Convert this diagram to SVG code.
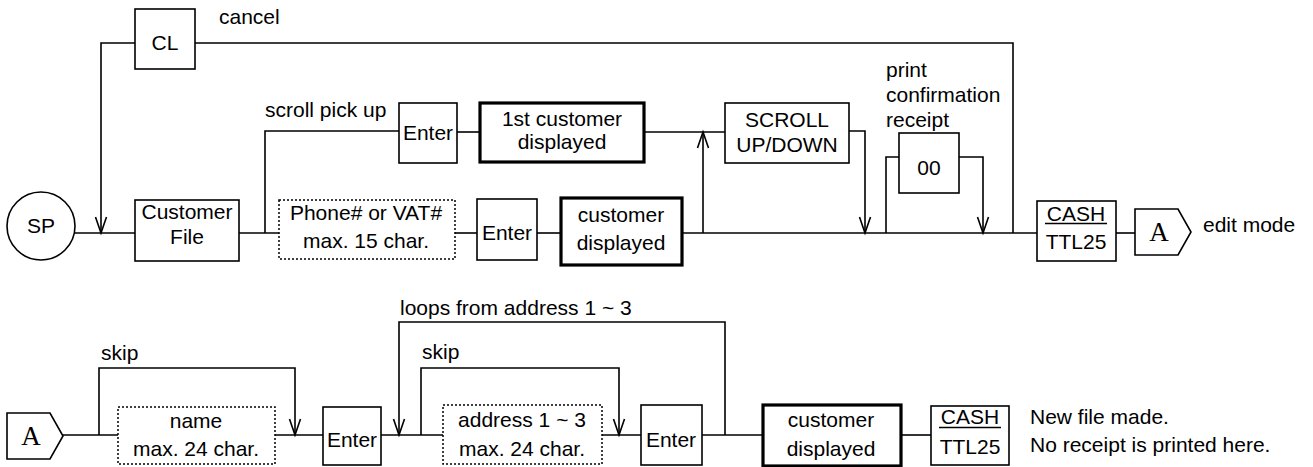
<svg xmlns="http://www.w3.org/2000/svg" width="1313" height="467" viewBox="0 0 1313 467">
<style>
text{font-family:"Liberation Sans",Arial,sans-serif;font-size:21px;fill:#000}
.c{text-anchor:middle}
.b{fill:#fff;stroke:#000;stroke-width:1.6}
.t{fill:#fff;stroke:#000;stroke-width:3.2}
.d{fill:#fff;stroke:#000;stroke-width:1.5;stroke-dasharray:2 2}
.l{fill:none;stroke:#000;stroke-width:1.6}
.a{fill:none;stroke:#000;stroke-width:1.6;marker-end:url(#v)}
.s{font-family:"Liberation Serif","Times New Roman",serif;font-size:27px}
</style>
<defs>
<marker id="v" markerUnits="userSpaceOnUse" markerWidth="20" markerHeight="16" viewBox="-18 -8 20 16" refX="0" refY="0" orient="auto" overflow="visible">
<path d="M-16,-5.5 L0,0 L-16,5.5" fill="none" stroke="#000" stroke-width="1.6"/>
</marker>
</defs>
<g id="connectors">
<path class="l" d="M75,233 H135"/>
<path class="a" d="M135,43 H101 V233"/>
<path class="l" d="M195,43 H1013 V233"/>
<path class="l" d="M239,233 H279"/>
<path class="l" d="M265,233 V131 H399"/>
<path class="l" d="M455,233 H477"/>
<path class="l" d="M537,233 H561"/>
<path class="l" d="M457,132 H480"/>
<path class="l" d="M644,132 H725"/>
<path class="a" d="M703,233 V132"/>
<path class="l" d="M682,233 H1037"/>
<path class="a" d="M849,131 H865 V233"/>
<path class="l" d="M886,233 V157 H899"/>
<path class="a" d="M959,157 H983 V233"/>
<path class="l" d="M1116,233 H1135"/>
<path class="l" d="M63,435 H118"/>
<path class="a" d="M99,435 V368 H295 V435"/>
<path class="l" d="M275,435 H323"/>
<path class="l" d="M381,435 H443"/>
<path class="a" d="M725,435 V322 H399 V435"/>
<path class="a" d="M421,435 V368 H619 V435"/>
<path class="l" d="M602,435 H641"/>
<path class="l" d="M702,435 H763"/>
<path class="l" d="M901,435 H931"/>
</g>
<g id="sp"><circle class="b" cx="41" cy="226" r="34"/><text class="c" x="41" y="233">SP</text></g>
<g id="cl"><rect class="b" x="135" y="9" width="60" height="60"/><text class="c" x="165" y="50">CL</text></g>
<text x="219" y="24">cancel</text>
<g id="custfile"><rect class="b" x="135" y="200" width="104" height="61"/><text class="c" x="187" y="219">Customer</text><text class="c" x="187" y="244">File</text></g>
<text x="265" y="117">scroll pick up</text>
<g id="phone"><rect class="d" x="279" y="200" width="176" height="59"/><text class="c" x="366" y="220">Phone# or VAT#</text><text class="c" x="366" y="248">max. 15 char.</text></g>
<g id="enter1"><rect class="b" x="399" y="103" width="58" height="60"/><text class="c" x="428" y="140">Enter</text></g>
<g id="first"><rect class="t" x="480" y="103" width="164" height="59"/><text class="c" x="562" y="126">1st customer</text><text class="c" x="562" y="149">displayed</text></g>
<g id="scroll"><rect class="b" x="725" y="103" width="124" height="60"/><text class="c" x="787" y="127">SCROLL</text><text class="c" x="787" y="152">UP/DOWN</text></g>
<g id="enter2"><rect class="b" x="477" y="199" width="60" height="61"/><text class="c" x="507" y="240">Enter</text></g>
<g id="custdisp1"><rect class="t" x="561" y="198" width="121" height="67"/><text class="c" x="621" y="222">customer</text><text class="c" x="621" y="250">displayed</text></g>
<text x="886" y="77">print</text>
<text x="886" y="102">confirmation</text>
<text x="886" y="127">receipt</text>
<g id="zz"><rect class="b" x="899" y="133" width="60" height="60"/><text class="c" x="929" y="175">00</text></g>
<g id="cash1"><rect class="b" x="1037" y="201" width="79" height="60"/><text class="c" x="1076" y="221">CASH</text><path class="l" d="M1045,223.5 H1107" stroke-width="2"/><text class="c" x="1076" y="249">TTL25</text></g>
<g id="a1"><path class="b" d="M1135,209 H1178 L1191,232 L1178,255 H1135 Z"/><text class="c s" x="1159" y="241">A</text></g>
<text x="1203" y="232">edit mode</text>
<g id="a2"><path class="b" d="M7,413 H50 L63,436 L50,459 H7 Z"/><text class="c s" x="31" y="445">A</text></g>
<text x="101" y="360">skip</text>
<g id="name"><rect class="d" x="118" y="407" width="157" height="57"/><text class="c" x="196" y="428">name</text><text class="c" x="196" y="456">max. 24 char.</text></g>
<g id="enter3"><rect class="b" x="323" y="407" width="58" height="58"/><text class="c" x="352" y="447">Enter</text></g>
<text x="400" y="315">loops from address 1 ~ 3</text>
<text x="422" y="359">skip</text>
<g id="address"><rect class="d" x="443" y="405" width="159" height="59"/><text class="c" x="522" y="427">address 1 ~ 3</text><text class="c" x="522" y="456">max. 24 char.</text></g>
<g id="enter4"><rect class="b" x="641" y="405" width="61" height="60"/><text class="c" x="671" y="447">Enter</text></g>
<g id="custdisp2"><rect class="t" x="763" y="405" width="138" height="61"/><text class="c" x="831" y="427">customer</text><text class="c" x="831" y="456">displayed</text></g>
<g id="cash2"><rect class="b" x="931" y="406" width="78" height="59"/><text class="c" x="970" y="424">CASH</text><path class="l" d="M939,427.5 H1001" stroke-width="2"/><text class="c" x="970" y="454">TTL25</text></g>
<text x="1030" y="424">New file made.</text>
<text x="1030" y="452">No receipt is printed here.</text>
</svg>
